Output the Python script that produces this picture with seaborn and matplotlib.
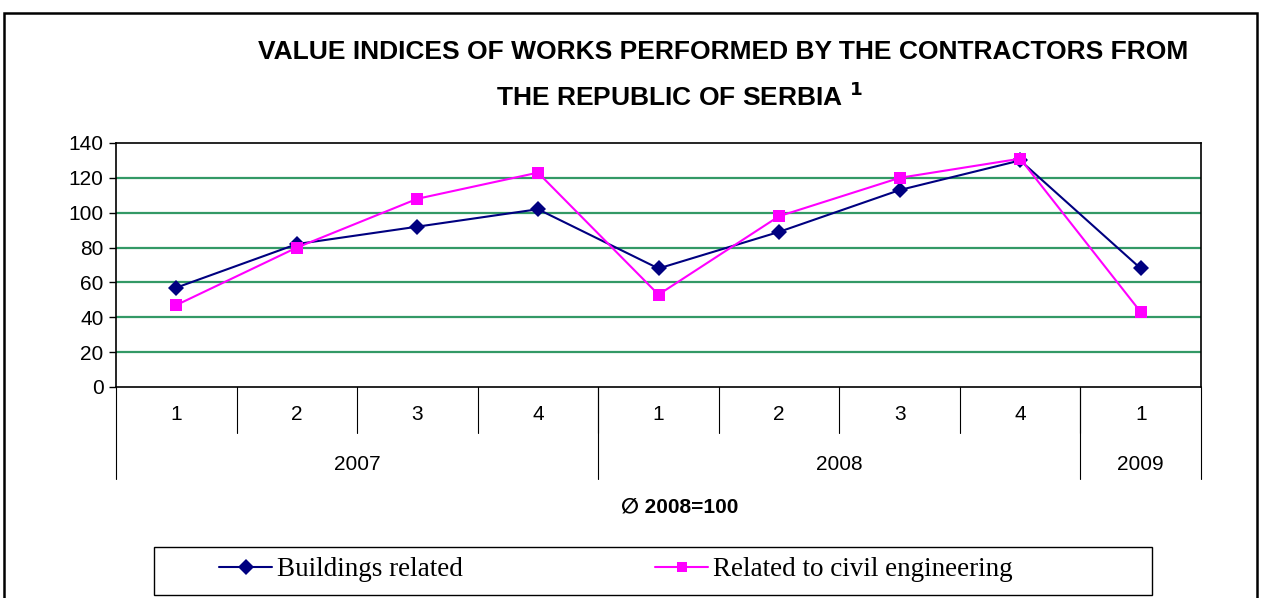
import matplotlib
matplotlib.use("Agg")
import matplotlib.pyplot as plt
import matplotlib.transforms as mtransforms
from matplotlib.patches import Rectangle
from matplotlib.lines import Line2D
import seaborn as sns
import pandas as pd
import numpy as np

quarters = ["1", "2", "3", "4", "1", "2", "3", "4", "1"]
years = ["2007", "2008", "2009"]
year_spans = [4, 4, 1]
buildings = [57, 82, 92, 102, 68, 89, 113, 130, 68]
civil = [47, 80, 108, 123, 53, 98, 120, 131, 43]
series_names = ["Buildings related", "Related to civil engineering"]
colors = ["#000080", "#FF00FF"]

sns.set_theme(style="white")
plt.rcParams["font.family"] = ["Liberation Sans", "DejaVu Sans"]
plt.rcParams["text.color"] = "black"
plt.rcParams["axes.labelcolor"] = "black"
plt.rcParams["xtick.color"] = "black"
plt.rcParams["ytick.color"] = "black"

n = len(quarters)
df = pd.DataFrame({
    "pos": list(range(n)) * 2,
    "value": buildings + civil,
    "series": [series_names[0]] * n + [series_names[1]] * n,
})

W, H = 1261, 598
fig = plt.figure(figsize=(W / 100, H / 100), dpi=100)
ax = fig.add_axes([116 / W, 1 - 387 / H, (1201 - 116) / W, (387 - 143) / H])

sns.lineplot(data=df, x="pos", y="value", hue="series", style="series",
             palette=dict(zip(series_names, colors)),
             markers={series_names[0]: "D", series_names[1]: "s"},
             dashes=False, markersize=8.5, linewidth=1.5, markeredgewidth=0,
             ax=ax, legend=False)

ax.set_xlim(-0.5, n - 0.5)
ax.set_ylim(0, 140)
ax.set_yticks(range(0, 141, 20))
ax.set_yticklabels([str(v) for v in range(0, 141, 20)], fontsize=15)
for v in range(20, 140, 20):
    ax.axhline(v, color="#339966", lw=1.6, zorder=0)
for s in ax.spines.values():
    s.set_color("black")
    s.set_linewidth(1.2)
ax.tick_params(axis="y", left=True, length=5, width=1, color="black", pad=4)
ax.set_xlabel("")
ax.set_ylabel("")

# multilevel x axis
ax.set_xticks([])
trans = mtransforms.blended_transform_factory(ax.transData, ax.transAxes)
h = (387 - 143)
def yax(px):
    return -(px - 387) / h
for b in np.arange(0.5, n - 0.5, 1.0):
    ax.plot([b, b], [0, yax(433)], transform=trans, color="black", lw=0.8, clip_on=False)
edges = [-0.5]
for s in year_spans:
    edges.append(edges[-1] + s)
for b in edges:
    ax.plot([b, b], [0, yax(479)], transform=trans, color="black", lw=0.8, clip_on=False)
for i, q in enumerate(quarters):
    ax.text(i, yax(415), q, transform=trans, ha="center", va="center", fontsize=15)
for j, y in enumerate(years):
    c = (edges[j] + edges[j + 1]) / 2
    ax.text(c, yax(465), y, transform=trans, ha="center", va="center", fontsize=15)

fig.text(680 / W, 1 - 507 / H, "∅ 2008=100", ha="center", va="center",
         fontsize=15, fontweight="bold")

# title
fig.text(723 / W, 1 - 52 / H, "VALUE INDICES OF WORKS PERFORMED BY THE CONTRACTORS FROM",
         ha="center", va="center", fontsize=19, fontweight="bold")
fig.text(679 / W, 1 - 97 / H, r"THE REPUBLIC OF SERBIA $^{\mathbf{1}}$",
         ha="center", va="center", fontsize=19, fontweight="bold")

# legend
handles = [
    Line2D([], [], color=colors[0], marker="D", markersize=8, lw=1.5, markeredgewidth=0),
    Line2D([], [], color=colors[1], marker="s", markersize=7.5, lw=1.5, markeredgewidth=0),
]
leg = fig.legend(handles, series_names, loc="center left",
                 bbox_to_anchor=(219 / W, 1 - 570 / H),
                 ncol=2, frameon=False,
                 prop={"family": "Liberation Serif", "size": 19.5},
                 handlelength=1.96, handletextpad=0.18, columnspacing=7.1,
                 borderpad=0, borderaxespad=0)
fig.patches.append(Rectangle((154 / W, 1 - 595 / H), (1152 - 154) / W, (595 - 547) / H,
                             transform=fig.transFigure, fill=False, edgecolor="black", lw=1.0))

# outer frame
fig.patches.append(Rectangle((4 / W, -0.05), (1257 - 4) / W, 1 - 13 / H + 0.05,
                             transform=fig.transFigure, fill=False, edgecolor="black", lw=1.8))

fig.savefig("out.png", dpi=100)
